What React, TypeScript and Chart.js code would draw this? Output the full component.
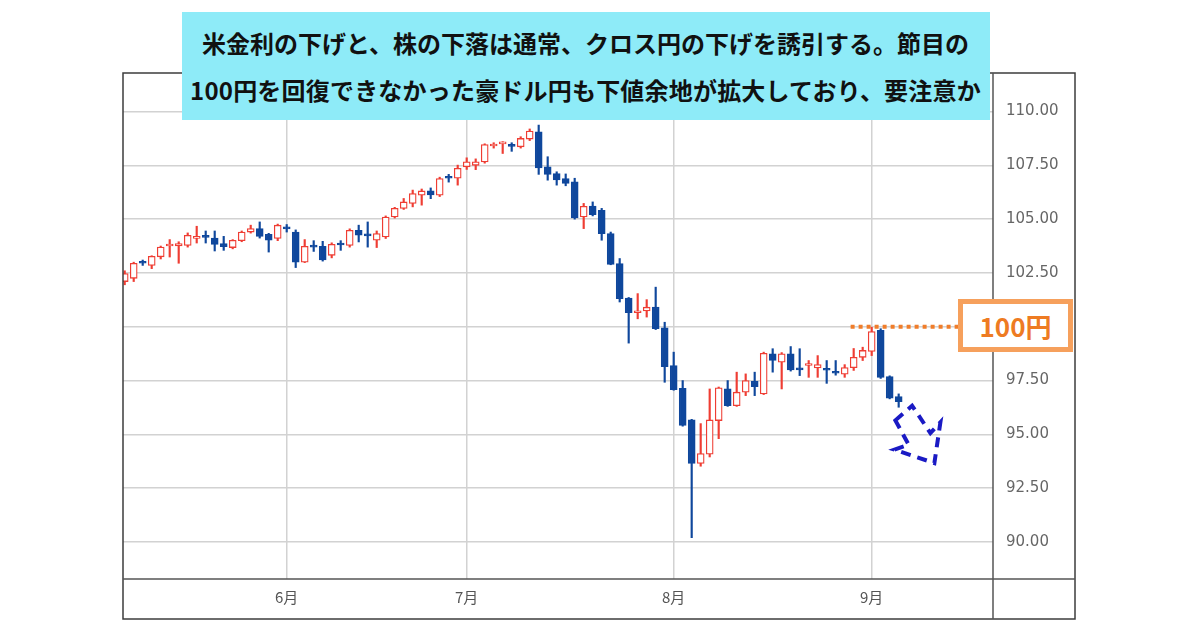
import React, { useEffect, useRef } from "react";
import { Chart, registerables } from "chart.js";

Chart.register(...registerables);

// ---- data (AUD/JPY daily, trading days) ----
const dates = [
  "5/8", "5/9", "5/10", "5/13", "5/14", "5/15", "5/16", "5/17", "5/20", "5/21",
  "5/22", "5/23", "5/24", "5/27", "5/28", "5/29", "5/30", "5/31",
  "6/3", "6/4", "6/5", "6/6", "6/7", "6/10", "6/11", "6/12", "6/13", "6/14",
  "6/17", "6/18", "6/19", "6/20", "6/21", "6/24", "6/25", "6/26", "6/27", "6/28",
  "7/1", "7/2", "7/3", "7/4", "7/5", "7/8", "7/9", "7/10", "7/11", "7/12",
  "7/15", "7/16", "7/17", "7/18", "7/19", "7/22", "7/23", "7/24", "7/25", "7/26",
  "7/29", "7/30", "7/31",
  "8/1", "8/2", "8/5", "8/6", "8/7", "8/8", "8/9", "8/12", "8/13", "8/14",
  "8/15", "8/16", "8/19", "8/20", "8/21", "8/22", "8/23", "8/26", "8/27", "8/28",
  "8/29", "8/30",
  "9/2", "9/3", "9/4", "9/5",
];
const open = [
  102.1, 102.25, 103.0, 102.85, 103.25, 103.75, 103.75, 103.78, 104.1, 104.2,
  104.12, 103.86, 103.68, 104.0, 104.4, 104.56, 104.3, 104.1,
  104.6, 104.4, 103.0, 103.78, 103.74, 103.32, 103.85, 103.78, 104.48, 104.3,
  104.02, 104.17, 105.1, 105.5, 105.73, 106.11, 106.31, 106.11, 106.95, 106.9,
  107.43, 107.5, 107.66, 108.4, 108.5, 108.45, 108.36, 108.72, 109.06, 107.43,
  107.12, 106.89, 106.73, 105.1, 105.61, 105.41, 104.33, 102.93, 101.33, 100.65,
  100.73, 100.91, 99.95,
  98.2, 97.14, 95.67, 93.65, 94.08, 95.64, 97.11, 96.33, 96.96, 97.47,
  96.88, 98.74, 98.35, 98.74, 98.05, 98.2, 98.09, 98.03, 97.9, 97.8,
  98.1, 98.58,
  98.85, 99.83, 97.69, 96.76,
];
const high = [
  102.6, 103.0, 103.1, 103.3, 103.75, 104.05, 103.95, 104.36, 104.67, 104.45,
  104.45, 104.2, 104.05, 104.45, 104.72, 104.87, 104.34, 104.77,
  104.75, 104.5, 104.05, 104.0, 103.97, 103.9, 104.0, 104.55, 104.72, 104.87,
  104.45, 105.15, 105.55, 105.96, 106.35, 106.4, 106.45, 106.95, 107.08, 107.51,
  107.85, 107.8, 108.5, 108.55, 108.6, 108.55, 108.83, 109.19, 109.37, 107.9,
  107.2, 107.1, 106.9, 105.73, 105.8, 105.5, 104.4, 103.17, 101.36, 101.54,
  101.26, 101.84, 100.21,
  98.82, 97.5, 95.7, 95.5, 97.11, 97.2, 97.5, 97.89, 97.81, 97.89,
  98.82, 98.98, 98.8, 99.08, 98.98, 98.43, 98.66, 98.43, 98.43, 98.24,
  98.99, 99.05,
  99.98, 99.91, 97.72, 96.88,
];
const low = [
  101.95, 102.1, 102.85, 102.7, 103.15, 103.24, 102.95, 103.7, 103.89, 103.89,
  103.52, 103.55, 103.62, 103.95, 104.35, 104.12, 103.47, 104.0,
  104.4, 102.75, 102.98, 103.5, 103.05, 103.2, 103.55, 103.7, 103.94, 103.7,
  103.68, 104.1, 105.05, 105.45, 105.57, 105.65, 105.95, 106.05, 106.72, 106.58,
  107.31, 107.3, 107.6, 108.3, 108.05, 108.15, 108.3, 108.65, 107.08, 106.81,
  106.58, 106.55, 105.0, 104.56, 105.15, 104.02, 102.88, 101.15, 99.24, 100.37,
  100.45, 99.87, 97.42,
  97.05, 95.38, 90.2, 93.52, 93.95, 94.8, 96.3, 96.3, 96.8, 96.8,
  96.85, 97.89, 97.11, 97.94, 97.73, 97.65, 97.65, 97.37, 97.75, 97.65,
  97.97, 98.43,
  98.66, 97.6, 96.65, 96.26,
];
const close = [
  102.47, 102.95, 102.95, 103.27, 103.7, 103.82, 103.87, 104.25, 104.2, 104.15,
  103.82, 103.72, 104.02, 104.4, 104.56, 104.2, 104.02, 104.72,
  104.55, 103.0, 103.74, 103.7, 103.1, 103.83, 103.8, 104.48, 104.25, 104.22,
  104.33, 105.1, 105.5, 105.8, 106.19, 106.31, 106.12, 106.89, 106.9, 107.36,
  107.66, 107.66, 108.47, 108.45, 108.53, 108.38, 108.75, 109.09, 107.38, 107.08,
  106.82, 106.66, 105.06, 105.6, 105.21, 104.33, 102.9, 101.3, 100.65, 100.7,
  100.91, 99.91, 98.15,
  97.08, 95.41, 93.65, 94.11, 95.67, 97.16, 96.33, 96.96, 97.5, 97.22,
  98.77, 98.43, 98.74, 98.0, 98.0, 98.27, 98.24, 97.98, 97.84, 98.1,
  98.58, 98.9,
  99.78, 97.65, 96.68, 96.52,
];
const monthTickDates = ["6/3", "7/1", "8/1", "9/2"];
const monthTickLabels = ["6月", "7月", "8月", "9月"];
const yTickValues = [90, 92.5, 95, 97.5, 100, 102.5, 105, 107.5, 110];
const resistanceLevel = 100;
const titleLines = [
  "米金利の下げと、株の下落は通常、クロス円の下げを誘引する。節目の",
  "100円を回復できなかった豪ドル円も下値余地が拡大しており、要注意か",
];
const resistanceLabel = "100円";

// axis ranges (index units / yen)
const X_MIN = -0.19;
const X_MAX = 96.48;
const Y_MIN = 88.28;
const Y_MAX = 111.79;

const RED = "#ef3d33";
const BLUE = "#0f479c";

export default function App() {
  const ref = useRef<HTMLCanvasElement>(null);

  useEffect(() => {
    const up = close.map((c, i) => c >= open[i]);
    const bodyData = dates.map((_, i) => ({ x: i, y: [open[i], close[i]] }));
    const wickData = dates.map((_, i) => ({ x: i, y: [low[i], high[i]] }));
    const monthIdx = monthTickDates.map((d) => dates.indexOf(d));

    const decoPlugin = {
      id: "deco",
      afterDatasetsDraw(chart: any) {
        const { ctx } = chart;
        const xs = chart.scales.x;
        const ys = chart.scales.y;
        ctx.save();
        // dotted resistance line
        const yR = ys.getPixelForValue(resistanceLevel);
        ctx.strokeStyle = "#f07d2a";
        ctx.lineWidth = 4;
        ctx.setLineDash([4, 4]);
        ctx.beginPath();
        ctx.moveTo(xs.getPixelForValue(80.66), yR);
        ctx.lineTo(xs.getPixelForValue(92.6), yR);
        ctx.stroke();
        // dashed arrow, anchored under last candle
        const ax = xs.getPixelForValue(dates.length - 1);
        const ay = ys.getPixelForValue(95);
        const pts = [
          [-3.3, -14], [13.4, -28.7], [31.7, -1.3], [41.7, -12],
          [35.7, 28.7], [-4.3, 15.3], [10, 10.3],
        ];
        ctx.strokeStyle = "#1a1ac4";
        ctx.lineWidth = 4;
        ctx.setLineDash([10, 7]);
        ctx.lineJoin = "miter";
        ctx.beginPath();
        pts.forEach(([dx, dy], i) => {
          if (i === 0) ctx.moveTo(ax + dx, ay + dy);
          else ctx.lineTo(ax + dx, ay + dy);
        });
        ctx.closePath();
        ctx.stroke();
        ctx.restore();
      },
      afterDraw(chart: any) {
        const { ctx, chartArea } = chart;
        const xs = chart.scales.x;
        const ys = chart.scales.y;
        const L = chartArea.left;
        const T = chartArea.top;
        const R = ys.right;
        const B = xs.bottom;
        ctx.save();
        ctx.strokeStyle = "#3c3c3c";
        ctx.lineWidth = 1.5;
        ctx.strokeRect(L, T, R - L, B - T);
        ctx.strokeStyle = "#555";
        ctx.beginPath();
        ctx.moveTo(chartArea.right, T);
        ctx.lineTo(chartArea.right, B);
        ctx.moveTo(L, chartArea.bottom);
        ctx.lineTo(R, chartArea.bottom);
        ctx.stroke();
        ctx.restore();
      },
    };

    const chart = new Chart(ref.current as HTMLCanvasElement, {
      type: "bar",
      data: {
        datasets: [
          {
            data: bodyData as any,
            backgroundColor: up.map((u) => (u ? "#ffffff" : BLUE)),
            borderColor: up.map((u) => (u ? RED : BLUE)),
            borderWidth: 1.3,
            borderSkipped: false,
            barThickness: 7,
            minBarLength: 2,
            grouped: false,
            order: 0,
          } as any,
          {
            data: wickData as any,
            backgroundColor: up.map((u) => (u ? RED : BLUE)),
            borderWidth: 0,
            barThickness: 1.5,
            grouped: false,
            order: 1,
          } as any,
        ],
      },
      options: {
        animation: false,
        responsive: false,
        devicePixelRatio: 1,
        layout: { padding: { left: 123, top: 73, right: 125, bottom: 11 } },
        plugins: { legend: { display: false }, tooltip: { enabled: false } },
        scales: {
          x: {
            type: "linear",
            position: "bottom",
            offset: false,
            min: X_MIN,
            max: X_MAX,
            afterFit: (s: any) => {
              s.height = 40;
            },
            afterBuildTicks: (s: any) => {
              s.ticks = monthIdx.map((v) => ({ value: v }));
            },
            grid: { offset: false, color: "#d2d2d2", lineWidth: 1.5, drawTicks: false },
            border: { display: false },
            ticks: {
              autoSkip: false,
              maxRotation: 0,
              padding: 9,
              color: "#555",
              font: { family: "'Noto Sans CJK JP', sans-serif", size: 15 },
              callback: (v: any) => {
                const k = monthIdx.indexOf(Number(v));
                return k >= 0 ? monthTickLabels[k] : "";
              },
            },
          },
          y: {
            type: "linear",
            position: "right",
            min: Y_MIN,
            max: Y_MAX,
            afterFit: (s: any) => {
              s.width = 82;
            },
            afterBuildTicks: (s: any) => {
              s.ticks = yTickValues.map((v) => ({ value: v }));
            },
            grid: { color: "#d2d2d2", lineWidth: 1.5, drawTicks: false },
            border: { display: false },
            ticks: {
              padding: 13,
              color: "#666",
              font: { family: "'DejaVu Sans', sans-serif", size: 15 },
              callback: (v: any) => Number(v).toFixed(2),
            },
          },
        },
      },
      plugins: [decoPlugin],
    });
    return () => chart.destroy();
  }, []);

  return (
    <div
      style={{
        position: "fixed",
        left: 0,
        top: 0,
        width: 1200,
        height: 630,
        background: "#ffffff",
        overflow: "hidden",
      }}
    >
      <canvas ref={ref} width={1200} height={630} style={{ position: "absolute", left: 0, top: 0 }} />
      <div
        style={{
          position: "absolute",
          left: 181.5,
          top: 11.5,
          width: 808,
          height: 108,
          background: "#8eebf8",
          fontFamily: "'Noto Sans CJK JP', sans-serif",
          fontWeight: 700,
          fontSize: 24,
          color: "#111",
        }}
      >
        <div style={{ position: "absolute", left: 0, right: 0, top: 16, lineHeight: "30px", textAlign: "center", whiteSpace: "nowrap" }}>
          {titleLines[0]}
        </div>
        <div
          style={{
            position: "absolute",
            left: 0,
            right: 0,
            top: 63,
            lineHeight: "30px",
            textAlign: "center",
            whiteSpace: "nowrap",
            letterSpacing: "0.2px",
          }}
        >
          {titleLines[1]}
        </div>
      </div>
      <div
        style={{
          position: "absolute",
          left: 958,
          top: 299,
          width: 115,
          height: 53,
          boxSizing: "border-box",
          border: "5px solid #f6a05c",
          background: "#ffffff",
          color: "#ee7b22",
          fontFamily: "'Noto Sans CJK JP', sans-serif",
          fontWeight: 700,
          fontSize: 26,
          lineHeight: "43px",
          textAlign: "center",
        }}
      >
        {resistanceLabel}
      </div>
    </div>
  );
}
